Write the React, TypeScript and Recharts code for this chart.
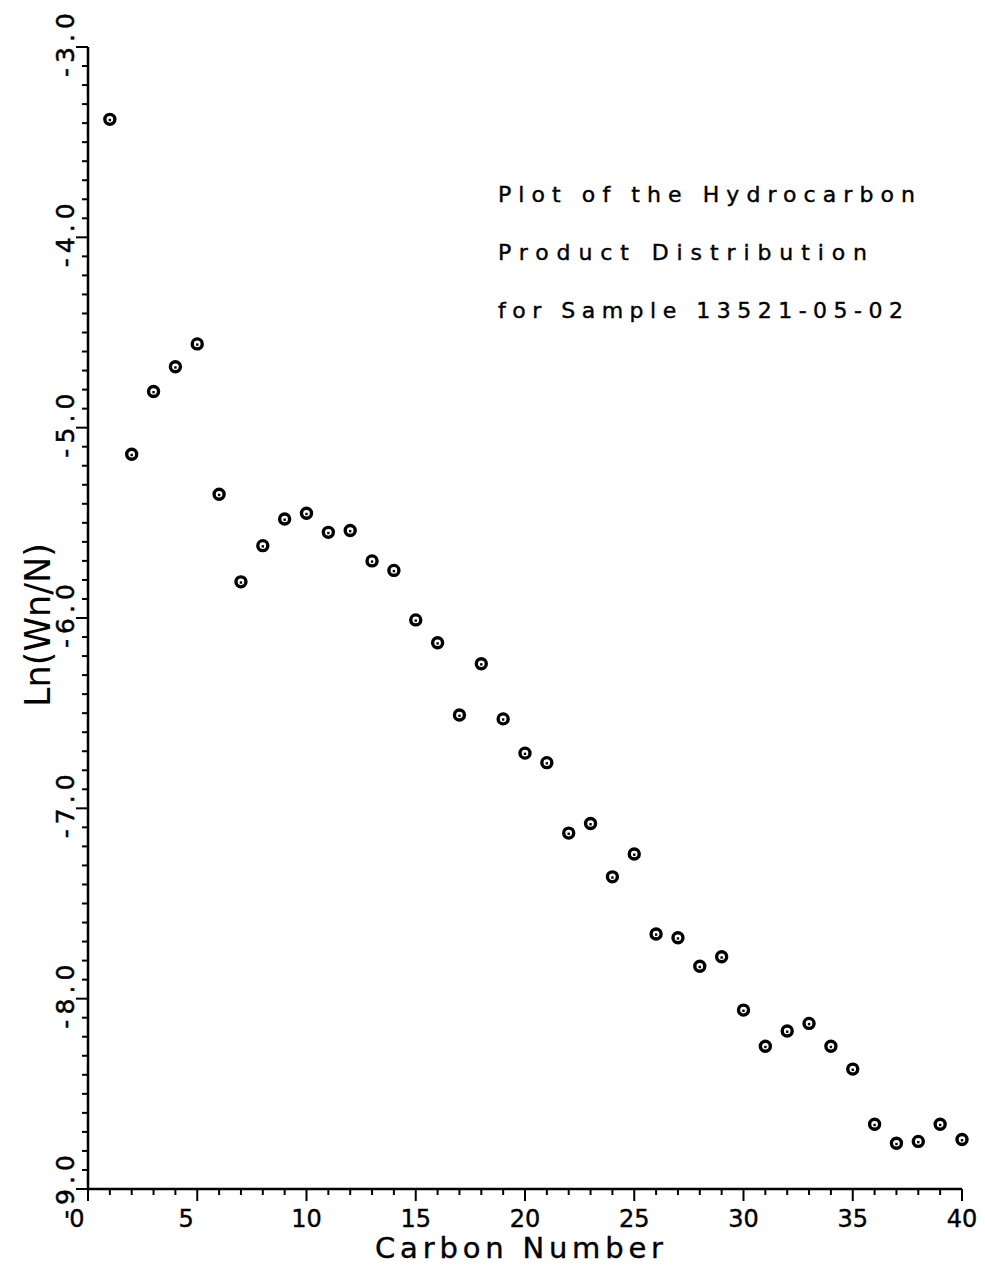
import React from "react"
import { ScatterChart, Scatter, XAxis, YAxis } from "recharts"

// carbon number vs ln(Wn/N)
const carbonNumber = [
  1, 2, 3, 4, 5, 6, 7, 8, 9, 10,
  11, 12, 13, 14, 15, 16, 17, 18, 19, 20,
  21, 22, 23, 24, 25, 26, 27, 28, 29, 30,
  31, 32, 33, 34, 35, 36, 37, 38, 39, 40,
]
const lnWn = [
  -3.38, -5.14, -4.81, -4.68, -4.56, -5.35, -5.81, -5.62, -5.48, -5.45,
  -5.55, -5.54, -5.70, -5.75, -6.01, -6.13, -6.51, -6.24, -6.53, -6.71,
  -6.76, -7.13, -7.08, -7.36, -7.24, -7.66, -7.68, -7.83, -7.78, -8.06,
  -8.25, -8.17, -8.13, -8.25, -8.37, -8.66, -8.76, -8.75, -8.66, -8.74,
]

const xLabels = [0, 5, 10, 15, 20, 25, 30, 35, 40]
const yLabels = [-9, -8, -7, -6, -5, -4, -3]
const titleLines = [
  "Plot of the Hydrocarbon",
  "Product Distribution",
  "for Sample 13521-05-02",
]

const xTicks = Array.from({ length: 41 }, (_, i) => i)
const yTicks = Array.from({ length: 61 }, (_, i) => Math.round((-9 + i * 0.1) * 10) / 10)

const data = carbonNumber.map((n, i) => ({ n, v: lnWn[i] }))

const FONT = "'DejaVu Sans', sans-serif"

function XTick(props: any) {
  const { x, y, payload } = props
  const v = payload.value
  const major = xLabels.includes(v)
  const label = String(v)
  return (
    <g>
      <line x1={x} x2={x} y1={y} y2={y + (major ? 12 : 6)} stroke="#000" strokeWidth={2} />
      {major && (
        <text
          x={x + (label.length === 1 ? -11 : 0)}
          y={y + 38}
          textAnchor="middle"
          fontFamily={FONT}
          fontSize={24}
          stroke="#000"
          strokeWidth={0.4}
          fill="#000"
        >
          {label}
        </text>
      )}
    </g>
  )
}

function YTick(props: any) {
  const { x, y, payload } = props
  const v = payload.value
  const major = yLabels.some((l) => Math.abs(l - v) < 1e-6)
  return (
    <g>
      <line x1={x - (major ? 12 : 6)} x2={x} y1={y} y2={y} stroke="#000" strokeWidth={2} />
      {major && (
        <text
          x={74}
          y={y - 2}
          transform={`rotate(-90, 74, ${y - 2})`}
          textAnchor="middle"
          fontFamily={FONT}
          fontSize={25}
          textLength={64}
          lengthAdjust="spacing"
          stroke="#000"
          strokeWidth={0.5}
          fill="#000"
        >
          {v.toFixed(1)}
        </text>
      )}
    </g>
  )
}

function Marker(props: any) {
  const { cx, cy } = props
  return (
    <g>
      <circle cx={cx} cy={cy} r={5} fill="#fff" stroke="#000" strokeWidth={3.4} />
      <rect x={cx - 1.2} y={cy - 0.5} width={2.4} height={2.4} fill="#000" />
    </g>
  )
}

export default function App() {
  return (
    <div style={{ position: "absolute", left: 0, top: 0, width: 985, height: 1269, background: "#fff" }}>
      <ScatterChart
        width={985}
        height={1269}
        margin={{ top: 47, right: 23, bottom: 40, left: 40 }}
      >
        <XAxis
          type="number"
          dataKey="n"
          domain={[0, 40]}
          ticks={xTicks}
          interval={0}
          height={40}
          tickSize={0}
          tickMargin={0}
          tickLine={false}
          axisLine={{ stroke: "#000", strokeWidth: 2.5 }}
          tick={<XTick />}
        />
        <YAxis
          type="number"
          dataKey="v"
          domain={[-9, -3]}
          ticks={yTicks}
          interval={0}
          width={48}
          tickSize={0}
          tickMargin={0}
          tickLine={false}
          axisLine={{ stroke: "#000", strokeWidth: 2.5 }}
          tick={<YTick />}
        />
        <Scatter data={data} shape={<Marker />} isAnimationActive={false} />
        {titleLines.map((t, i) => (
          <text
            key={t}
            x={498}
            y={202 + i * 58}
            fontFamily={FONT}
            fontSize={22}
            textLength={[417, 369, 405][i]}
            lengthAdjust="spacing"
            stroke="#000"
            strokeWidth={0.4}
            fill="#000"
          >
            {t}
          </text>
        ))}
        <text
          x={375}
          y={1258}
          fontFamily={FONT}
          fontSize={29}
          textLength={288}
          lengthAdjust="spacing"
          stroke="#000"
          strokeWidth={0.4}
          fill="#000"
        >
          Carbon Number
        </text>
        <text
          x={50}
          y={625}
          transform="rotate(-90, 50, 625)"
          textAnchor="middle"
          fontFamily={FONT}
          fontSize={35}
          fill="#000"
        >
          Ln(Wn/N)
        </text>
      </ScatterChart>
    </div>
  )
}
